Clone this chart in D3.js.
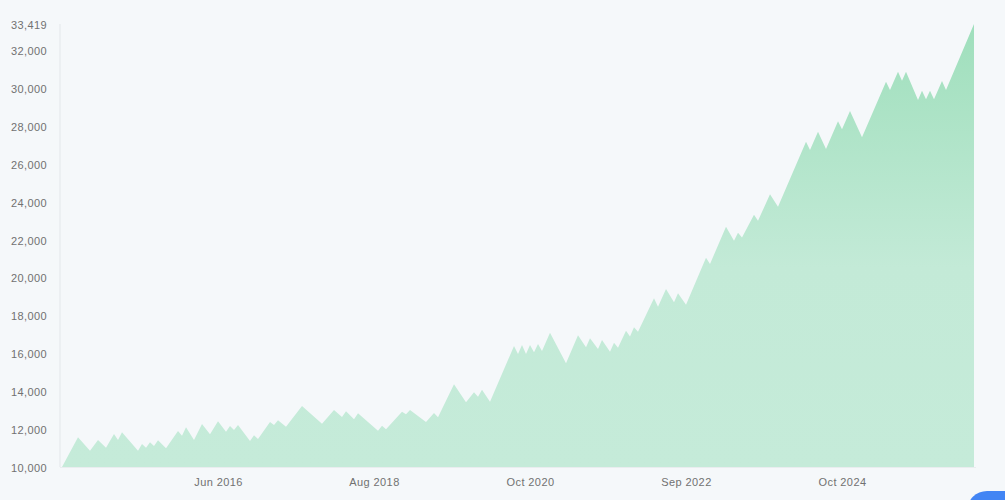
<!DOCTYPE html>
<html>
<head>
<meta charset="utf-8">
<script src="https://cdn.jsdelivr.net/npm/d3@7"></script>
<style>
  html, body { margin: 0; padding: 0; background: #f5f8fa; }
  svg { display: block; font-family: Roboto, "Noto Sans", sans-serif; }
  .axis text { fill: #717171; font-size: 11px; letter-spacing: 0.4px; }
</style>
</head>
<body>
<svg id="chart" width="1005" height="500"></svg>
<script>
// sample index of each turning point (series is evenly spaced, 229 samples)
const pointIndex = [
  0, 4, 7, 9, 11, 13, 14, 15, 19, 20, 21, 22, 23, 24, 26, 29, 30, 31, 33, 35,
  37, 39, 41, 42, 43, 44, 47, 48, 49, 52, 53, 54, 56, 60, 65, 68, 70, 71, 73, 74,
  79, 80, 81, 85, 86, 87, 91, 93, 94, 98, 101, 103, 104, 105, 107, 113, 114, 115, 116, 117,
  118, 119, 120, 122, 126, 129, 131, 132, 134, 135, 137, 138, 139, 141, 142, 143, 144, 148, 149, 151,
  153, 154, 156, 161, 162, 166, 168, 169, 170, 173, 174, 177, 179, 186, 187, 189, 191, 194, 195, 197,
  200, 206, 207, 209, 210, 211, 214, 215, 216, 217, 218, 220, 221, 228
];
const values = [
  10000, 11570, 10860, 11430, 11020, 11745, 11430, 11835, 10860, 11215, 11020, 11305, 11110, 11410, 10990, 11905, 11655, 12100, 11430, 12275,
  11730, 12415, 11865, 12165, 11955, 12220, 11375, 11675, 11480, 12380, 12220, 12470, 12130, 13225, 12290, 13015, 12645, 12945, 12520, 12840,
  11920, 12185, 11995, 12925, 12785, 13015, 12380, 12855, 12625, 14370, 13420, 13950, 13715, 14085, 13450, 16395, 15975, 16450, 15975, 16450,
  16065, 16500, 16130, 17100, 15480, 16960, 16330, 16805, 16240, 16715, 16095, 16570, 16305, 17200, 16900, 17385, 17145, 18920, 18475, 19410,
  18705, 19185, 18580, 21060, 20730, 22705, 21960, 22385, 22135, 23335, 23020, 24420, 23760, 27195, 26760, 27725, 26810, 28275, 27850, 28820,
  27430, 30370, 29930, 30900, 30420, 30900, 29400, 29895, 29440, 29895, 29440, 30405, 29930, 33419
];
const lastIndex = 228;

// x axis labels and the sample they sit under
const tickIndex = [39, 78, 117, 156, 195];
const tickLabels = ["Jun 2016", "Aug 2018", "Oct 2020", "Sep 2022", "Oct 2024"];
const yTicks = [10000, 12000, 14000, 16000, 18000, 20000, 22000, 24000, 26000, 28000, 30000, 32000, 33419];

const svg = d3.select('#chart');
const margin = { top: 24, right: 31, bottom: 33, left: 62 };
const width = 1005, height = 500;

const data = pointIndex.map((i, k) => ({ i, v: values[k] }));

const x = d3.scaleLinear().domain([0, lastIndex]).range([margin.left, width - margin.right]);
const y = d3.scaleLinear().domain([10000, d3.max(values)]).range([height - margin.bottom, margin.top]);

const defs = svg.append('defs');
const grad = defs.append('linearGradient')
  .attr('id', 'fill')
  .attr('gradientUnits', 'userSpaceOnUse')
  .attr('x1', 0).attr('x2', 0)
  .attr('y1', y(d3.max(values))).attr('y2', y(10000));
grad.append('stop').attr('offset', 0).attr('stop-color', '#9fdfbc');
grad.append('stop').attr('offset', 0.55).attr('stop-color', '#c3ead7');
grad.append('stop').attr('offset', 1).attr('stop-color', '#c5ebd9');

// axis frame lines
svg.append('line')
  .attr('x1', margin.left - 2).attr('x2', margin.left - 2)
  .attr('y1', margin.top).attr('y2', height - margin.bottom)
  .attr('stroke', '#e3e7ea');
svg.append('line')
  .attr('x1', margin.left - 2).attr('x2', width - margin.right + 2)
  .attr('y1', height - margin.bottom + 0.5).attr('y2', height - margin.bottom + 0.5)
  .attr('stroke', '#e9edef');

const area = d3.area()
  .x(d => x(d.i))
  .y0(y(10000))
  .y1(d => y(d.v));

svg.append('path')
  .datum(data)
  .attr('fill', 'url(#fill)')
  .attr('d', area);

const yAxis = svg.append('g')
  .attr('class', 'axis')
  .attr('transform', `translate(${margin.left - 12},0.5)`)
  .call(d3.axisLeft(y).tickValues(yTicks).tickSize(0).tickFormat(d3.format(',')));
yAxis.select('.domain').remove();

const xAxis = svg.append('g')
  .attr('class', 'axis')
  .attr('transform', `translate(0,${height - margin.bottom + 8})`)
  .call(d3.axisBottom(x).tickValues(tickIndex).tickSize(0).tickFormat((d, k) => tickLabels[k]));
xAxis.select('.domain').remove();

// partially visible floating button in the corner
svg.append('rect')
  .attr('x', 967).attr('y', 491)
  .attr('width', 80).attr('height', 40)
  .attr('rx', 20)
  .attr('fill', '#4285f4');
</script>
</body>
</html>
